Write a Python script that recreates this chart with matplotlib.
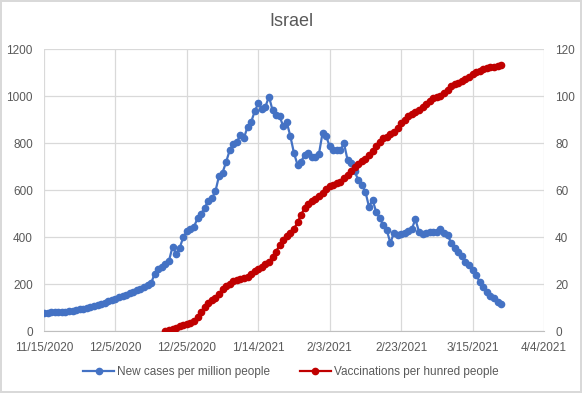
import numpy as np
import pandas as pd
import matplotlib
matplotlib.use("Agg")
import matplotlib.pyplot as plt
import matplotlib.dates as mdates
from matplotlib.ticker import FuncFormatter

plt.rcParams['font.family'] = ['Liberation Sans', 'DejaVu Sans']

# Daily data, starting 11/15/2020
start_cases = "2020-11-15"
cases_per_million = [
    78, 79, 80, 80, 81, 82, 84, 86, 88, 90, 93, 96, 99, 103, 107, 111, 116, 120, 127, 132,
    138, 145, 150, 156, 162, 168, 175, 182, 188, 195, 205, 245, 265, 275, 285, 300, 360, 330, 355, 400,
    425, 435, 445, 480, 500, 525, 555, 565, 595, 660, 675, 720, 770, 795, 805, 836, 822, 870, 890, 935,
    970, 945, 955, 998, 940, 921, 914, 871, 888, 829, 758, 708, 722, 751, 758, 743, 741, 755, 843, 831,
    786, 772, 770, 769, 800, 729, 715, 680, 644, 623, 594, 530, 559, 509, 481, 452, 430, 375, 420, 410,
    412, 417, 425, 435, 477, 424, 414, 420, 424, 424, 422, 435, 420, 410, 377, 353, 339, 320, 296, 280,
    262, 240, 211, 187, 169, 152, 140, 126, 114,
]

start_vacc = "2020-12-19"
vacc_per_hundred = [
    0.0, 0.4, 0.9, 1.6, 2.2, 2.7, 3.2, 3.6, 4.5, 6.2, 8.2, 10.3, 12.2, 13.2, 14.0, 15.8, 18.0, 19.2, 20.3, 21.3,
    21.9, 22.2, 22.6, 23.3, 24.3, 25.5, 26.5, 27.5, 28.5, 29.6, 31.5, 33.9, 36.8, 38.8, 40.6, 42.0, 43.6, 46.3, 49.6, 52.5,
    54.2, 55.2, 56.3, 57.5, 59.0, 60.4, 61.6, 62.4, 63.0, 63.6, 65.0, 66.4, 68.2, 70.0, 71.3, 72.4, 73.4, 74.8, 76.6, 78.6,
    80.6, 82.0, 82.8, 83.8, 84.8, 86.6, 88.4, 90.0, 91.4, 92.3, 93.2, 94.3, 95.6, 96.8, 98.0, 99.1, 99.6, 100.1, 101.3, 102.6,
    104.2, 105.1, 105.6, 106.3, 107.1, 108.0, 109.3, 110.3, 110.8, 111.4, 111.8, 112.2, 112.6, 113.0, 113.4,
]

dates_cases = pd.date_range(start_cases, periods=len(cases_per_million), freq="D")
dates_vacc = pd.date_range(start_vacc, periods=len(vacc_per_hundred), freq="D")
xticks = pd.date_range("2020-11-15", "2021-04-04", freq="20D")

blue = "#4472C4"
red = "#C00000"
grid_c = "#D9D9D9"
text_c = "#595959"

fig = plt.figure(figsize=(5.82, 3.93), dpi=100)
fig.patch.set_edgecolor("#D9D9D9")
fig.patch.set_linewidth(1.5)
ax = fig.add_axes([0.0756, 0.157, 0.859, 0.718])
ax2 = ax.twinx()

l1, = ax.plot(dates_cases, cases_per_million, color=blue, lw=1.6, marker="o", ms=4.5,
              label="New cases per million people")
l2, = ax2.plot(dates_vacc, vacc_per_hundred, color=red, lw=1.6, marker="o", ms=4.5,
               label="Vaccinations per hunred people")

ax.set_xlim(xticks[0], xticks[-1])
ax.set_ylim(0, 1200)
ax.set_yticks(np.arange(0, 1201, 200))
ax2.set_ylim(0, 120)
ax2.set_yticks(np.arange(0, 121, 20))
ax.set_xticks(xticks)
ax.xaxis.set_major_formatter(FuncFormatter(
    lambda v, p: "{d.month}/{d.day}/{d.year}".format(d=mdates.num2date(v))))

ax.grid(True, color=grid_c, lw=0.9)
ax.set_axisbelow(True)
for a in (ax, ax2):
    for s in a.spines.values():
        s.set_visible(False)
    a.tick_params(length=0, labelsize=8.5, labelcolor=text_c)
ax.spines["bottom"].set_visible(True)
ax.spines["bottom"].set_color("#BFBFBF")
ax.tick_params(axis="y", pad=8)
ax.tick_params(axis="x", pad=8)
ax2.tick_params(axis="y", pad=8)

fig.text(0.5, 0.945, "Israel", ha="center", va="center", fontsize=13, color=text_c)
fig.legend(handles=[l1, l2], loc="center", bbox_to_anchor=(0.5, 0.053), ncol=2,
           frameon=False, fontsize=8.5, labelcolor=text_c, handlelength=2.6,
           columnspacing=2.5, handletextpad=0.3)

fig.savefig("out.png", dpi=100)
